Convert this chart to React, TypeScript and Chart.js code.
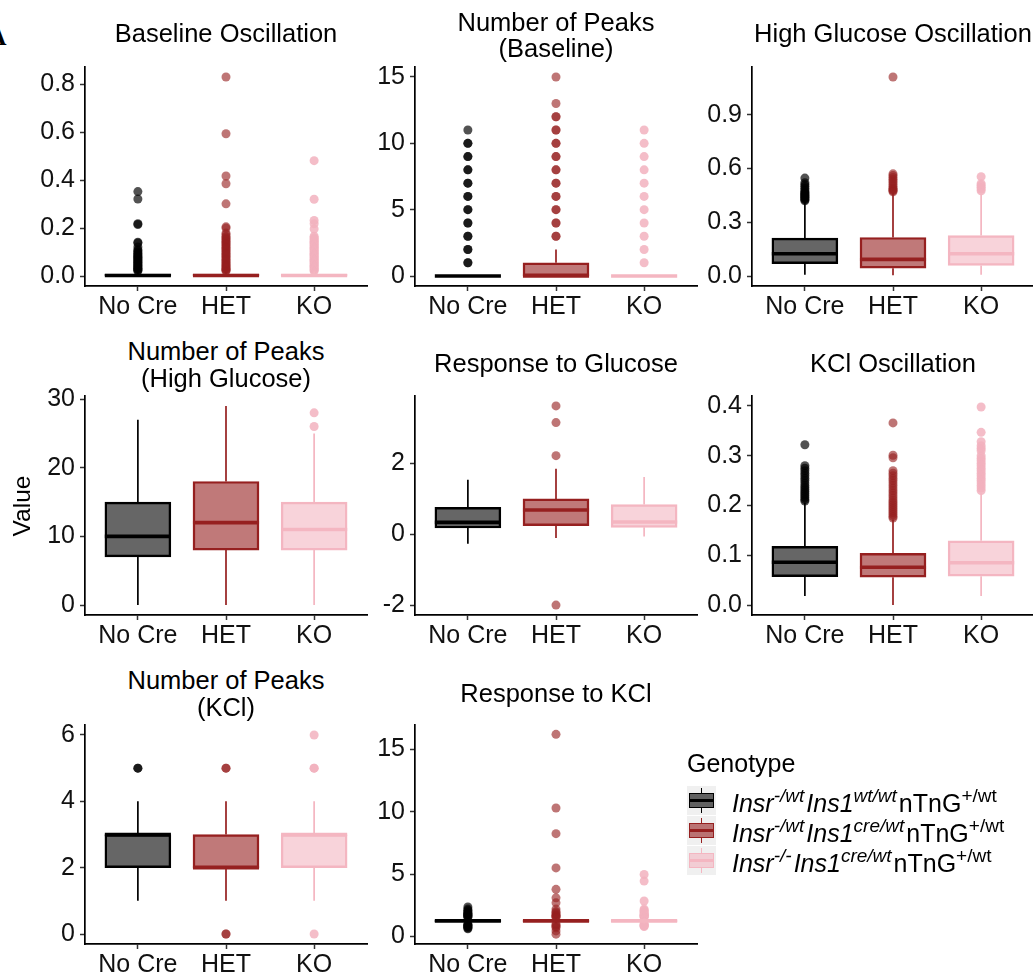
import React, { useEffect, useRef } from 'react';
import { Chart, registerables } from 'chart.js';

Chart.register(...registerables);

const FONT = "'Liberation Sans', Arial, Helvetica, sans-serif";

const CATEGORIES = ['No Cre', 'HET', 'KO'];
const GROUP_COLORS = ['#000000', '#962020', '#F4B6C1'];
const GROUP_FILLS = ['rgba(0,0,0,0.6)', 'rgba(150,32,32,0.6)', 'rgba(244,182,193,0.6)'];
const GROUP_POINTS = ['rgba(0,0,0,0.68)', 'rgba(150,32,32,0.62)', 'rgba(242,178,190,0.85)'];

// Panel 1: Baseline Oscillation
const BASE_OSC_Q1 = [0, 0, 0];
const BASE_OSC_MEDIAN = [0.002, 0.002, 0.002];
const BASE_OSC_Q3 = [0.008, 0.008, 0.008];
const BASE_OSC_LOWER = [0, 0, 0];
const BASE_OSC_UPPER = [0.02, 0.02, 0.02];
const BASE_OSC_OUT_NOCRE = [0.021, 0.024, 0.027, 0.03, 0.033, 0.036, 0.04, 0.043, 0.046, 0.05, 0.054, 0.058, 0.062, 0.066, 0.07, 0.074, 0.078, 0.082, 0.086, 0.09, 0.095, 0.1, 0.105, 0.11, 0.121, 0.138, 0.141, 0.215, 0.218, 0.321, 0.352];
const BASE_OSC_OUT_HET = [0.021, 0.024, 0.027, 0.03, 0.034, 0.038, 0.042, 0.046, 0.05, 0.055, 0.06, 0.065, 0.07, 0.075, 0.08, 0.085, 0.09, 0.095, 0.1, 0.105, 0.11, 0.115, 0.12, 0.125, 0.13, 0.135, 0.14, 0.145, 0.15, 0.155, 0.16, 0.165, 0.172, 0.179, 0.2, 0.205, 0.301, 0.385, 0.417, 0.593, 0.83];
const BASE_OSC_OUT_KO = [0.021, 0.025, 0.03, 0.035, 0.04, 0.045, 0.05, 0.055, 0.06, 0.065, 0.07, 0.075, 0.08, 0.085, 0.09, 0.095, 0.1, 0.105, 0.11, 0.115, 0.12, 0.125, 0.13, 0.135, 0.14, 0.145, 0.15, 0.155, 0.16, 0.166, 0.196, 0.218, 0.232, 0.32, 0.481];
const BASE_OSC_TICKS = [0, 0.2, 0.4, 0.6, 0.8];
const BASE_OSC_RANGE = [-0.0415, 0.8715];

// Panel 2: Number of Peaks (Baseline)
const PEAKS_BASE_Q1 = [0, 0, 0];
const PEAKS_BASE_MEDIAN = [0, 0, 0];
const PEAKS_BASE_Q3 = [0, 1, 0];
const PEAKS_BASE_LOWER = [0, 0, 0];
const PEAKS_BASE_UPPER = [0, 2, 0];
const PEAKS_BASE_OUT_NOCRE = [1, 1, 2, 2, 3, 3, 4, 4, 5, 5, 6, 6, 7, 7, 8, 8, 9, 9, 10, 10, 11];
const PEAKS_BASE_OUT_HET = [3, 3, 4, 4, 5, 5, 6, 6, 7, 7, 8, 8, 9, 9, 10, 10, 11, 11, 12, 12, 13, 15];
const PEAKS_BASE_OUT_KO = [1, 2, 3, 4, 5, 6, 7, 8, 9, 10, 11];
const PEAKS_BASE_TICKS = [0, 5, 10, 15];
const PEAKS_BASE_RANGE = [-0.75, 15.75];

// Panel 3: High Glucose Oscillation
const HG_OSC_Q1 = [0.069, 0.044, 0.059];
const HG_OSC_MEDIAN = [0.124, 0.093, 0.124];
const HG_OSC_Q3 = [0.211, 0.215, 0.226];
const HG_OSC_LOWER = [0.007, 0.004, 0.007];
const HG_OSC_UPPER = [0.415, 0.465, 0.462];
const HG_OSC_OUT_NOCRE = [0.42, 0.425, 0.43, 0.435, 0.44, 0.445, 0.45, 0.455, 0.46, 0.465, 0.47, 0.48, 0.49, 0.5, 0.51, 0.52, 0.546];
const HG_OSC_OUT_HET = [0.47, 0.475, 0.48, 0.485, 0.49, 0.5, 0.51, 0.52, 0.53, 0.54, 0.55, 0.56, 0.57, 1.11];
const HG_OSC_OUT_KO = [0.475, 0.485, 0.495, 0.505, 0.515, 0.554];
const HG_OSC_TICKS = [0, 0.3, 0.6, 0.9];
const HG_OSC_RANGE = [-0.0555, 1.1655];

// Panel 4: Number of Peaks (High Glucose)
const PEAKS_HG_Q1 = [7, 8, 8];
const PEAKS_HG_MEDIAN = [10, 12, 11];
const PEAKS_HG_Q3 = [15, 18, 15];
const PEAKS_HG_LOWER = [0, 0, 0];
const PEAKS_HG_UPPER = [27, 29, 25];
const PEAKS_HG_OUT_NOCRE: number[] = [];
const PEAKS_HG_OUT_HET: number[] = [];
const PEAKS_HG_OUT_KO = [26, 28];
const PEAKS_HG_TICKS = [0, 10, 20, 30];
const PEAKS_HG_RANGE = [-1.45, 30.45];

// Panel 5: Response to Glucose
const RESP_GLU_Q1 = [0.17, 0.24, 0.19];
const RESP_GLU_MEDIAN = [0.33, 0.68, 0.34];
const RESP_GLU_Q3 = [0.75, 0.99, 0.83];
const RESP_GLU_LOWER = [-0.27, -0.11, -0.07];
const RESP_GLU_UPPER = [1.53, 1.84, 1.61];
const RESP_GLU_OUT_NOCRE: number[] = [];
const RESP_GLU_OUT_HET = [2.21, 3.14, 3.61, -2.0];
const RESP_GLU_OUT_KO: number[] = [];
const RESP_GLU_TICKS = [-2, 0, 2];
const RESP_GLU_RANGE = [-2.28, 3.89];

// Panel 6: KCl Oscillation
const KCL_OSC_Q1 = [0.057, 0.056, 0.058];
const KCL_OSC_MEDIAN = [0.086, 0.076, 0.085];
const KCL_OSC_Q3 = [0.118, 0.104, 0.129];
const KCL_OSC_LOWER = [0.018, 0.0, 0.018];
const KCL_OSC_UPPER = [0.206, 0.172, 0.226];
const KCL_OSC_OUT_NOCRE = [0.209, 0.212, 0.216, 0.22, 0.224, 0.228, 0.232, 0.236, 0.24, 0.245, 0.25, 0.255, 0.26, 0.265, 0.27, 0.275, 0.28, 0.322];
const KCL_OSC_OUT_HET = [0.175, 0.178, 0.182, 0.186, 0.19, 0.194, 0.198, 0.202, 0.206, 0.21, 0.215, 0.22, 0.225, 0.23, 0.235, 0.24, 0.245, 0.25, 0.255, 0.26, 0.265, 0.27, 0.296, 0.301, 0.366];
const KCL_OSC_OUT_KO = [0.23, 0.235, 0.24, 0.245, 0.25, 0.255, 0.26, 0.265, 0.27, 0.275, 0.28, 0.285, 0.29, 0.295, 0.3, 0.31, 0.315, 0.32, 0.328, 0.347, 0.398];
const KCL_OSC_TICKS = [0, 0.1, 0.2, 0.3, 0.4];
const KCL_OSC_RANGE = [-0.02, 0.42];

// Panel 7: Number of Peaks (KCl)
const PEAKS_KCL_Q1 = [2, 2, 2];
const PEAKS_KCL_MEDIAN = [3, 2, 3];
const PEAKS_KCL_Q3 = [3, 3, 3];
const PEAKS_KCL_LOWER = [1, 1, 1];
const PEAKS_KCL_UPPER = [4, 4, 4];
const PEAKS_KCL_OUT_NOCRE = [5, 5];
const PEAKS_KCL_OUT_HET = [5, 5, 0, 0];
const PEAKS_KCL_OUT_KO = [6, 5, 5, 0];
const PEAKS_KCL_TICKS = [0, 2, 4, 6];
const PEAKS_KCL_RANGE = [-0.3, 6.3];

// Panel 8: Response to KCl
const RESP_KCL_Q1 = [1.18, 1.18, 1.18];
const RESP_KCL_MEDIAN = [1.25, 1.25, 1.25];
const RESP_KCL_Q3 = [1.32, 1.32, 1.32];
const RESP_KCL_LOWER = [1.05, 1.05, 1.05];
const RESP_KCL_UPPER = [1.45, 1.45, 1.45];
const RESP_KCL_OUT_NOCRE = [0.62, 0.68, 0.75, 0.8, 0.85, 0.9, 0.95, 1.0, 1.55, 1.6, 1.65, 1.7, 1.75, 1.8, 1.85, 1.9, 2.0, 2.1, 2.2, 2.37];
const RESP_KCL_OUT_HET = [0.19, 0.45, 0.7, 0.8, 0.9, 1.0, 1.55, 1.6, 1.65, 1.7, 1.8, 1.9, 2.0, 2.2, 2.7, 3.1, 3.78, 5.5, 8.24, 10.3, 16.2];
const RESP_KCL_OUT_KO = [0.8, 0.85, 0.9, 0.95, 1.0, 1.55, 1.6, 1.65, 1.7, 1.75, 1.8, 1.9, 2.0, 2.1, 2.2, 2.85, 4.44, 4.97];
const RESP_KCL_TICKS = [0, 5, 10, 15];
const RESP_KCL_RANGE = [-0.6, 16.95];

const COL_X = [85, 415, 752];
const ROW_Y = [67, 396, 725];
const PLOT_W = 282;
const PLOT_H = 219;
const PAD_L = 80;
const PAD_T = 25;
const PAD_R = 12;
const AXIS_H = 45;

type Spec = {
  title: string[];
  col: number;
  row: number;
  q1: number[];
  med: number[];
  q3: number[];
  lo: number[];
  hi: number[];
  out: number[][];
  ticks: number[];
  range: number[];
  decimals: number;
};

const PANELS: Spec[] = [
  { title: ['Baseline Oscillation'], col: 0, row: 0, q1: BASE_OSC_Q1, med: BASE_OSC_MEDIAN, q3: BASE_OSC_Q3, lo: BASE_OSC_LOWER, hi: BASE_OSC_UPPER, out: [BASE_OSC_OUT_NOCRE, BASE_OSC_OUT_HET, BASE_OSC_OUT_KO], ticks: BASE_OSC_TICKS, range: BASE_OSC_RANGE, decimals: 1 },
  { title: ['Number of Peaks', '(Baseline)'], col: 1, row: 0, q1: PEAKS_BASE_Q1, med: PEAKS_BASE_MEDIAN, q3: PEAKS_BASE_Q3, lo: PEAKS_BASE_LOWER, hi: PEAKS_BASE_UPPER, out: [PEAKS_BASE_OUT_NOCRE, PEAKS_BASE_OUT_HET, PEAKS_BASE_OUT_KO], ticks: PEAKS_BASE_TICKS, range: PEAKS_BASE_RANGE, decimals: 0 },
  { title: ['High Glucose Oscillation'], col: 2, row: 0, q1: HG_OSC_Q1, med: HG_OSC_MEDIAN, q3: HG_OSC_Q3, lo: HG_OSC_LOWER, hi: HG_OSC_UPPER, out: [HG_OSC_OUT_NOCRE, HG_OSC_OUT_HET, HG_OSC_OUT_KO], ticks: HG_OSC_TICKS, range: HG_OSC_RANGE, decimals: 1 },
  { title: ['Number of Peaks', '(High Glucose)'], col: 0, row: 1, q1: PEAKS_HG_Q1, med: PEAKS_HG_MEDIAN, q3: PEAKS_HG_Q3, lo: PEAKS_HG_LOWER, hi: PEAKS_HG_UPPER, out: [PEAKS_HG_OUT_NOCRE, PEAKS_HG_OUT_HET, PEAKS_HG_OUT_KO], ticks: PEAKS_HG_TICKS, range: PEAKS_HG_RANGE, decimals: 0 },
  { title: ['Response to Glucose'], col: 1, row: 1, q1: RESP_GLU_Q1, med: RESP_GLU_MEDIAN, q3: RESP_GLU_Q3, lo: RESP_GLU_LOWER, hi: RESP_GLU_UPPER, out: [RESP_GLU_OUT_NOCRE, RESP_GLU_OUT_HET, RESP_GLU_OUT_KO], ticks: RESP_GLU_TICKS, range: RESP_GLU_RANGE, decimals: 0 },
  { title: ['KCl Oscillation'], col: 2, row: 1, q1: KCL_OSC_Q1, med: KCL_OSC_MEDIAN, q3: KCL_OSC_Q3, lo: KCL_OSC_LOWER, hi: KCL_OSC_UPPER, out: [KCL_OSC_OUT_NOCRE, KCL_OSC_OUT_HET, KCL_OSC_OUT_KO], ticks: KCL_OSC_TICKS, range: KCL_OSC_RANGE, decimals: 1 },
  { title: ['Number of Peaks', '(KCl)'], col: 0, row: 2, q1: PEAKS_KCL_Q1, med: PEAKS_KCL_MEDIAN, q3: PEAKS_KCL_Q3, lo: PEAKS_KCL_LOWER, hi: PEAKS_KCL_UPPER, out: [PEAKS_KCL_OUT_NOCRE, PEAKS_KCL_OUT_HET, PEAKS_KCL_OUT_KO], ticks: PEAKS_KCL_TICKS, range: PEAKS_KCL_RANGE, decimals: 0 },
  { title: ['Response to KCl'], col: 1, row: 2, q1: RESP_KCL_Q1, med: RESP_KCL_MEDIAN, q3: RESP_KCL_Q3, lo: RESP_KCL_LOWER, hi: RESP_KCL_UPPER, out: [RESP_KCL_OUT_NOCRE, RESP_KCL_OUT_HET, RESP_KCL_OUT_KO], ticks: RESP_KCL_TICKS, range: RESP_KCL_RANGE, decimals: 0 },
];

const TITLE_CENTERS_1 = [33, 363, 693];
const TITLE_CENTERS_2 = [[22, 48], [351, 378], [680, 707]];

function buildConfig(p: Spec): any {
  const datasets: any[] = [];
  p.out.forEach((vals, g) => {
    datasets.push({
      type: 'scatter',
      data: vals.map((v) => ({ x: g, y: v })),
      backgroundColor: GROUP_POINTS[g],
      borderColor: 'rgba(0,0,0,0)',
      borderWidth: 0,
      pointRadius: 4.5,
      pointHoverRadius: 4.5,
      showLine: false,
      order: 4,
    });
  });
  CATEGORIES.forEach((_, g) => {
    datasets.push({
      type: 'line',
      data: [
        { x: g, y: p.lo[g] },
        { x: g, y: p.q1[g] },
        { x: g, y: null },
        { x: g, y: p.q3[g] },
        { x: g, y: p.hi[g] },
      ],
      borderColor: GROUP_COLORS[g],
      borderWidth: 1.7,
      pointRadius: 0,
      spanGaps: false,
      fill: false,
      order: 3,
    });
  });
  datasets.push({
    type: 'bar',
    data: CATEGORIES.map((_, g) => ({ x: g, y: [p.q1[g], p.q3[g]] })),
    backgroundColor: GROUP_FILLS,
    borderColor: GROUP_COLORS,
    borderWidth: 1.8,
    borderSkipped: false,
    barThickness: 66,
    order: 2,
  });
  CATEGORIES.forEach((_, g) => {
    datasets.push({
      type: 'line',
      data: [
        { x: g - 0.375, y: p.med[g] },
        { x: g + 0.375, y: p.med[g] },
      ],
      borderColor: GROUP_COLORS[g],
      borderWidth: 3.6,
      borderCapStyle: 'butt',
      pointRadius: 0,
      fill: false,
      order: 1,
    });
  });

  const tickFont = { family: FONT, size: 25 };
  return {
    type: 'bar',
    data: { datasets },
    options: {
      animation: false,
      responsive: false,
      maintainAspectRatio: false,
      devicePixelRatio: 1,
      events: [],
      layout: { padding: { left: 0, right: PAD_R, top: PAD_T, bottom: 0 } },
      plugins: { legend: { display: false }, tooltip: { enabled: false }, title: { display: false } },
      scales: {
        x: {
          type: 'linear',
          min: -0.6,
          max: 2.6,
          offset: false,
          bounds: 'data',
          afterBuildTicks: (s: any) => {
            s.ticks = CATEGORIES.map((_, i) => ({ value: i }));
          },
          afterFit: (s: any) => {
            s.height = AXIS_H;
          },
          ticks: {
            autoSkip: false,
            maxRotation: 0,
            padding: 1,
            color: '#111',
            font: tickFont,
            callback: (v: any) => CATEGORIES[Math.round(Number(v))] ?? '',
          },
          grid: { display: true, offset: false, drawOnChartArea: false, drawTicks: true, tickLength: 5, tickColor: '#333', tickWidth: 1.5 },
          border: { display: true, color: '#000', width: 1.7 },
        },
        y: {
          type: 'linear',
          min: p.range[0],
          max: p.range[1],
          bounds: 'data',
          afterBuildTicks: (s: any) => {
            s.ticks = p.ticks.map((v) => ({ value: v }));
          },
          afterFit: (s: any) => {
            s.width = PAD_L;
          },
          ticks: {
            autoSkip: false,
            padding: 5,
            color: '#111',
            font: tickFont,
            callback: (v: any) => Number(v).toFixed(p.decimals),
          },
          grid: { display: true, drawOnChartArea: false, drawTicks: true, tickLength: 5, tickColor: '#333', tickWidth: 1.5 },
          border: { display: true, color: '#000', width: 1.7 },
        },
      },
    },
  };
}

function Panel({ spec }: { spec: Spec }) {
  const ref = useRef<HTMLCanvasElement>(null);
  const w = PAD_L + PLOT_W + PAD_R;
  const h = PAD_T + PLOT_H + AXIS_H;
  useEffect(() => {
    if (!ref.current) return;
    const chart = new Chart(ref.current, buildConfig(spec));
    return () => chart.destroy();
  }, [spec]);
  return (
    <canvas
      ref={ref}
      width={w}
      height={h}
      style={{ position: 'absolute', left: COL_X[spec.col] - PAD_L, top: ROW_Y[spec.row] - PAD_T, width: w, height: h }}
    />
  );
}

function PanelTitle({ spec }: { spec: Spec }) {
  const cx = COL_X[spec.col] + PLOT_W / 2;
  const centers = spec.title.length === 1 ? [TITLE_CENTERS_1[spec.row]] : TITLE_CENTERS_2[spec.row];
  return (
    <>
      {spec.title.map((t, i) => (
        <div
          key={i}
          style={{
            position: 'absolute',
            left: cx - 200,
            width: 400,
            top: centers[i] - 15,
            height: 30,
            lineHeight: '30px',
            textAlign: 'center',
            fontFamily: FONT,
            fontSize: 25.5,
            color: '#000',
            whiteSpace: 'nowrap',
          }}
        >
          {t}
        </div>
      ))}
    </>
  );
}

const LEGEND_TITLE = 'Genotype';
const LEGEND_LABELS = [
  [['Insr', 'i'], ['-/wt', 'si'], ['Ins1', 'i'], ['wt/wt', 'si'], ['nTnG', 'n'], ['+/wt', 's']],
  [['Insr', 'i'], ['-/wt', 'si'], ['Ins1', 'i'], ['cre/wt', 'si'], ['nTnG', 'n'], ['+/wt', 's']],
  [['Insr', 'i'], ['-/-', 'si'], ['Ins1', 'i'], ['cre/wt', 'si'], ['nTnG', 'n'], ['+/wt', 's']],
];
const LEGEND_TOPS = [786, 816, 846];

function LegendKey({ g, top }: { g: number; top: number }) {
  const c = GROUP_COLORS[g];
  return (
    <div style={{ position: 'absolute', left: 687, top, width: 29, height: 29, background: '#F0F0F0' }}>
      <div style={{ position: 'absolute', left: 13.7, top: 2, width: 1.6, height: 6, background: c }} />
      <div style={{ position: 'absolute', left: 13.7, top: 21, width: 1.6, height: 6, background: c }} />
      <div
        style={{
          position: 'absolute',
          left: 2,
          top: 7,
          width: 25,
          height: 15,
          boxSizing: 'border-box',
          border: `1.7px solid ${c}`,
          background: GROUP_FILLS[g],
        }}
      />
      <div style={{ position: 'absolute', left: 2, top: 13.3, width: 25, height: 2.6, background: c }} />
    </div>
  );
}

function Legend() {
  return (
    <>
      <div style={{ position: 'absolute', left: 687, top: 748, lineHeight: '30px', fontFamily: FONT, fontSize: 25, color: '#000' }}>
        {LEGEND_TITLE}
      </div>
      {LEGEND_LABELS.map((parts, g) => (
        <React.Fragment key={g}>
          <LegendKey g={g} top={LEGEND_TOPS[g]} />
          <div
            style={{
              position: 'absolute',
              left: 732,
              top: LEGEND_TOPS[g] + 2,
              lineHeight: '30px',
              fontFamily: FONT,
              fontSize: 25,
              color: '#000',
              whiteSpace: 'nowrap',
            }}
          >
            {parts.map(([t, k], i) => {
              const sup = k.includes('s');
              const it = k.includes('i');
              return (
                <span
                  key={i}
                  style={{
                    fontStyle: it ? 'italic' : 'normal',
                    fontSize: sup ? 19 : 25,
                    position: 'relative',
                    top: sup ? -10 : 0,
                    marginRight: sup ? 2 : 0,
                  }}
                >
                  {t}
                </span>
              );
            })}
          </div>
        </React.Fragment>
      ))}
    </>
  );
}

export default function App() {
  return (
    <div style={{ position: 'absolute', left: 0, top: 0, width: 1033, height: 974, overflow: 'hidden', background: '#fff' }}>
      <div
        style={{
          position: 'absolute',
          left: -13,
          top: 21,
          fontFamily: "'Liberation Serif', 'Times New Roman', serif",
          fontWeight: 'bold',
          fontSize: 27,
          lineHeight: '30px',
          color: '#000',
        }}
      >
        A
      </div>
      {PANELS.map((p, i) => (
        <Panel key={i} spec={p} />
      ))}
      {PANELS.map((p, i) => (
        <PanelTitle key={'t' + i} spec={p} />
      ))}
      <div
        style={{
          position: 'absolute',
          left: 22 - 40,
          top: 506 - 15,
          width: 80,
          height: 30,
          lineHeight: '30px',
          textAlign: 'center',
          transform: 'rotate(-90deg)',
          fontFamily: FONT,
          fontSize: 24.5,
          color: '#000',
        }}
      >
        Value
      </div>
      <Legend />
    </div>
  );
}
